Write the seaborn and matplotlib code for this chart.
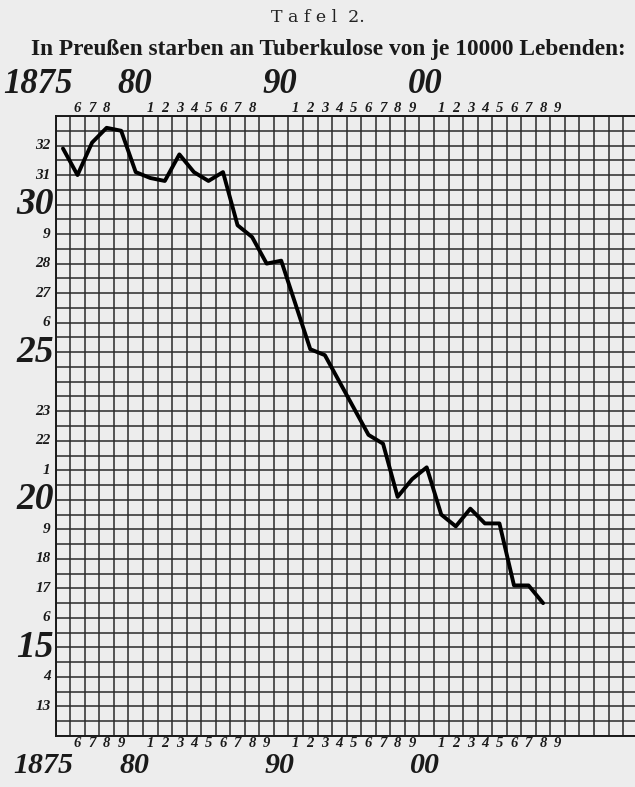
import numpy as np
import pandas as pd
import matplotlib
matplotlib.use("Agg")
import matplotlib.pyplot as plt
import seaborn as sns

# Deaths from tuberculosis per 10000 living, Prussia 1875-1908
years = list(range(1875, 1909))
deaths = [31.9, 31.0, 32.1, 32.6, 32.5, 31.1, 30.9, 30.8, 31.7, 31.1,
          30.8, 31.1, 29.3, 28.9, 28.0, 28.1, 26.6, 25.1, 24.9, 24.0,
          23.1, 22.2, 21.9, 20.1, 20.7, 21.1, 19.5, 19.1, 19.7, 19.2,
          19.2, 17.1, 17.1, 16.5]

# axis labels as printed (years 1875-1909)
label_years = list(range(1875, 1910))
top_labels = ["1875", "6", "7", "8", "", "80", "1", "2", "3", "4", "5", "6", "7", "8", "",
              "90", "1", "2", "3", "4", "5", "6", "7", "8", "9",
              "00", "1", "2", "3", "4", "5", "6", "7", "8", "9"]
bottom_labels = ["1875", "6", "7", "8", "9", "80", "1", "2", "3", "4", "5", "6", "7", "8", "9",
                 "90", "1", "2", "3", "4", "5", "6", "7", "8", "9",
                 "00", "1", "2", "3", "4", "5", "6", "7", "8", "9"]
y_values = [32, 31, 30, 29, 28, 27, 26, 25, 23, 22, 21, 20, 19, 18, 17, 16, 15, 14, 13]
y_labels = ["32", "31", "30", "9", "28", "27", "6", "25", "23", "22", "1", "20", "9", "18",
            "17", "6", "15", "4", "13"]
big_y = ["30", "25", "20", "15"]

df = pd.DataFrame({"year": years, "deaths": deaths})

sns.set_theme(style="white")
plt.rcParams["font.family"] = ["Liberation Serif", "DejaVu Serif"]

paper = "#ededed"
ink = "#1a1a1a"

fig = plt.figure(figsize=(6.35, 7.87), dpi=100, facecolor=paper)
ax = fig.add_axes([0.0877, 0.0648, 0.9165, 0.7878], facecolor=paper)

sns.lineplot(data=df, x="year", y="deaths", ax=ax, color="black", linewidth=2.8,
             zorder=5)

ax.set_xlim(1874.5, 1914.5)
ax.set_ylim(12, 33)
ax.set_xticks(np.arange(1874.5, 1915, 1))
ax.set_yticks(np.arange(12, 33.5, 0.5))
ax.tick_params(length=0, labelbottom=False, labelleft=False)
ax.grid(True, color="#2a2a2a", linewidth=1.1)
ax.set_xlabel("")
ax.set_ylabel("")
for side in ["left", "top", "bottom"]:
    ax.spines[side].set_color(ink)
    ax.spines[side].set_linewidth(1.4)
ax.spines["right"].set_visible(False)

hand = dict(family=["Liberation Serif", "DejaVu Serif"], fontweight="bold",
            fontstyle="italic", color=ink, clip_on=False)

# year labels above the grid: small digits in a row, decades above them
for yr, lab in zip(label_years, top_labels):
    if not lab:
        continue
    if len(lab) > 1:
        x = yr + 0.7 if lab == "1875" else yr - 0.1
        ha = "right" if lab == "1875" else "center"
        ax.text(x, 33.52, lab, fontsize=25, ha=ha, va="bottom", **hand)
    else:
        ax.text(yr, 33.04, lab, fontsize=10.5, ha="center", va="bottom", **hand)

# year labels below the grid
for yr, lab in zip(label_years, bottom_labels):
    if len(lab) > 1:
        x = yr + 0.7 if lab == "1875" else yr - 0.1
        ha = "right" if lab == "1875" else "center"
        ax.text(x, 11.45, lab, fontsize=21.5, ha=ha, va="top", **hand)
    else:
        ax.text(yr, 11.96, lab, fontsize=10.5, ha="center", va="top", **hand)

# value labels left of the grid
for val, lab in zip(y_values, y_labels):
    if lab in big_y:
        ax.text(1874.35, val, lab, fontsize=27, ha="right", va="center", **hand)
    else:
        ax.text(1874.15, val, lab, fontsize=11, ha="right", va="center", **hand)

fig.text(0.5, 0.978, "T a f e l  2.", ha="center", va="center", fontsize=12.5,
         family=["DejaVu Serif"], color="#222222")
fig.text(0.517, 0.937, "In Preußen starben an Tuberkulose von je 10000 Lebenden:",
         ha="center", va="center", fontsize=16.8, fontweight="bold",
         family=["Liberation Serif", "DejaVu Serif"], color=ink)

fig.savefig("out.png", dpi=100, facecolor=paper)
